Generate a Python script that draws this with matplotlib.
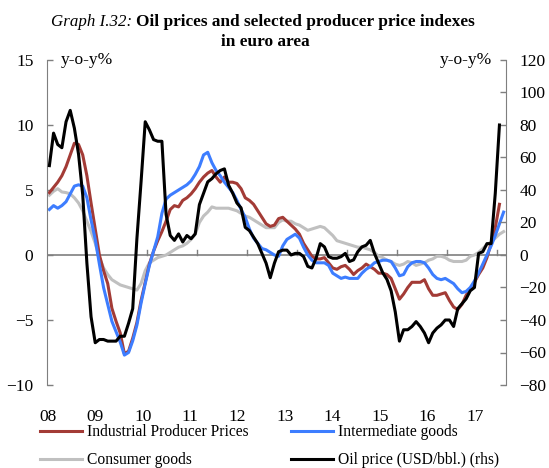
import matplotlib as mpl
mpl.use('agg')
import matplotlib.pyplot as plt
import numpy as np

plt.rcParams['font.family'] = 'Liberation Serif'

# monthly data, Jan 2008 - Feb 2017 (y-o-y %)
industrial = [4.8, 5.2, 5.6, 6.1, 6.8, 7.7, 8.6, 8.5, 7.7, 6.1, 4.0, 2.0,
              0.0, -1.2, -2.2, -4.1, -5.1, -6.0, -7.6, -7.4, -6.4, -5.2, -3.5, -2.1,
              -0.7, 0.3, 1.1, 1.8, 2.6, 3.5, 3.8, 3.7, 4.2, 4.4, 4.7, 5.1,
              5.6, 6.0, 6.3, 6.5, 6.0, 5.6, 6.0, 5.6, 5.6, 5.5, 5.1, 4.4,
              4.2, 3.9, 3.4, 2.9, 2.4, 2.2, 2.3, 2.8, 2.9, 2.6, 2.3, 2.0,
              1.6, 0.9, 0.4, -0.1, -0.3, -0.3, -0.2, -0.6, -1.0, -1.1, -0.9, -0.8,
              -1.1, -1.5, -1.2, -1.0, -0.7, -0.9, -1.1, -1.4, -1.4, -1.5, -1.8, -2.6,
              -3.4, -3.0, -2.5, -2.1, -2.1, -2.1, -1.9, -2.6, -3.1, -3.1, -3.0, -2.9,
              -3.5, -4.0, -4.2, -3.8, -3.1, -2.6, -2.1, -1.5, -1.0, -0.2, 0.9, 2.1,
              3.9, np.nan]
intermediate = [3.5, 3.8, 3.6, 3.8, 4.1, 4.7, 5.3, 5.4, 5.3, 4.4, 2.7, 1.2,
                -0.7, -2.5, -3.8, -5.1, -5.9, -6.7, -7.7, -7.5, -6.6, -5.4, -3.7, -2.2,
                -0.8, 0.3, 1.4, 3.2, 4.3, 4.6, 4.8, 5.0, 5.2, 5.4, 5.7, 6.2,
                6.8, 7.7, 7.9, 7.1, 6.5, 6.1, 5.6, 5.2, 4.8, 4.2, 3.5, 2.9,
                2.0, 1.3, 0.9, 0.5, 0.4, 0.2, 0.0, -0.1, 0.7, 1.2, 1.4, 1.6,
                1.3, 0.6, 0.0, -0.4, -0.6, -0.6, -0.6, -0.8, -1.4, -1.6, -1.8, -1.7,
                -1.8, -1.8, -1.8, -1.4, -1.1, -0.9, -0.6, -0.5, -0.4, -0.4, -0.5, -1.0,
                -1.6, -1.5, -0.9, -0.6, -0.5, -0.5, -0.6, -1.0, -1.5, -1.8, -1.9, -1.8,
                -2.0, -2.2, -2.6, -2.9, -2.8, -2.5, -2.0, -1.4, -0.7, 0.0, 0.7, 1.5,
                2.4, 3.3]
consumer = [4.6, 4.9, 5.1, 4.85, 4.8, 4.7, 4.4, 4.0, 3.4, 2.6, 1.8, 0.9,
            -0.2, -1.0, -1.5, -1.9, -2.1, -2.3, -2.4, -2.5, -2.6, -2.7, -2.2, -1.2,
            -0.6, -0.4, -0.2, -0.1, 0.0, 0.2, 0.4, 0.6, 0.7, 0.9, 1.2, 1.6,
            2.5, 3.0, 3.3, 3.7, 3.6, 3.6, 3.6, 3.6, 3.5, 3.4, 3.2, 3.0,
            2.9, 2.7, 2.5, 2.3, 2.1, 2.1, 2.1, 2.5, 2.7, 2.6, 2.6, 2.4,
            2.3, 2.1, 1.9, 2.0, 2.1, 2.2, 2.1, 1.8, 1.5, 1.1, 1.0, 0.9,
            0.8, 0.7, 0.6, 0.6, 0.5, 0.4, 0.2, -0.1, -0.2, -0.4, -0.5, -0.7,
            -0.8, -0.7, -0.5, -0.6, -0.8, -0.7, -0.6, -0.4, -0.3, -0.1, -0.1, -0.2,
            -0.4, -0.5, -0.5, -0.5, -0.4, -0.1, 0.0, 0.2, 0.5, 0.8, 1.0, 1.3,
            1.6, 1.8]
oil = [55, 75, 68, 66, 82, 89, 78, 62, 37, -5, -38, -54,
       -52, -52, -53, -53, -53, -50, -50, -42, -33, 10, 45, 82,
       77, 71, 70, 70, 25, 12, 9, 13, 8, 12, 10, 13,
       31, 38, 45, 47, 50, 52, 53, 43, 38, 32, 29, 17,
       15, 11, 7, 1, -5, -14, -5, 2, 3, 3, 0, 1,
       1, -1, -7, -8, -2, 7, 5, -1, -2, -2, -1, 1,
       -4, -3, 2, 5, 6, 9, 1, -5, -11, -15, -22, -35,
       -53, -46, -46, -44, -41, -44, -48, -54, -48, -45, -43, -40,
       -40, -44, -33, -30, -27, -22, -20, 1, 2, 7, 7, 38,
       80, np.nan]
year_labels = ['08', '09', '10', '11', '12', '13', '14', '15', '16', '17']

red = '#A33B36'
blue = '#3D7DFF'
grey = '#C0C0C0'
axc = '#7F7F7F'

x = np.arange(len(consumer)) + 0.5

fig = plt.figure(figsize=(5.49, 4.68), dpi=100)
ax = fig.add_axes([47.3/549, 1-385/468, (505.7-47.3)/549, 325/468])
ax2 = ax.twinx()

l1, = ax.plot(x, industrial, color=red, lw=2.2, label='Industrial Producer Prices')
l2, = ax.plot(x, intermediate, color=blue, lw=2.2, label='Intermediate goods')
l3, = ax.plot(x, consumer, color=grey, lw=2.2, label='Consumer goods')
l4, = ax2.plot(x, oil, color='black', lw=2.2, label='Oil price (USD/bbl.) (rhs)')
l3.set_zorder(1)

ax.set_xlim(0, len(consumer))
ax.set_ylim(-10, 15)
ax2.set_ylim(-80, 120)
ax.set_yticks(np.arange(-10, 16, 5))
ax2.set_yticks(np.arange(-80, 121, 20))

for a in (ax, ax2):
    a.spines['top'].set_visible(False)
    a.spines['bottom'].set_visible(False)
    a.tick_params(axis='y', direction='in', length=4, width=1, color=axc,
                  labelsize=12.5, pad=10)
ax.spines['left'].set_color(axc)
ax2.spines['right'].set_color(axc)
ax2.spines['left'].set_visible(False)
ax.spines['right'].set_visible(False)

# horizontal axis at zero, ticks between years
ax.axhline(0, color=axc, lw=1.2, zorder=0.5)
ax.set_xticks(np.arange(0, len(consumer), 12))
ax.tick_params(axis='x', length=0, labelbottom=False)
for k in range(1, 10):
    ax.plot([12*k, 12*k], [0, 0.35], color=axc, lw=1, zorder=0.6)

for i, lab in enumerate(year_labels):
    ax.text(0.17 + 11.38*i, -0.075, lab, transform=ax.get_xaxis_transform(),
            ha='center', va='top', fontsize=12.5)

ax.text(0.03, 1.0, 'y-o-y%', transform=ax.transAxes, ha='left', va='center', fontsize=12.5)
ax2.text(0.97, 1.0, 'y-o-y%', transform=ax2.transAxes, ha='right', va='center', fontsize=12.5)

fig.text(132/549, 1-22/468, 'Graph I.32:', style='italic', fontsize=12.2, ha='right', va='center')
fig.text(136/549, 1-22/468, 'Oil prices and selected producer price indexes',
         fontweight='bold', fontsize=12.4, ha='left', va='center')
fig.text(265/549, 1-42/468, 'in euro area', fontweight='bold', fontsize=12.4,
         ha='center', va='center')

# column-first fill: order gives rows (red, blue) and (grey, black)
fig.legend(handles=[l1, l3, l2, l4], loc='upper left', bbox_to_anchor=(40/549, 1-424/468),
           ncol=2, frameon=False, fontsize=11.2, handlelength=2.7, handletextpad=0.32,
           columnspacing=2.75, labelspacing=0.78, borderaxespad=0, borderpad=0)

fig.savefig('out.png', dpi=100)
